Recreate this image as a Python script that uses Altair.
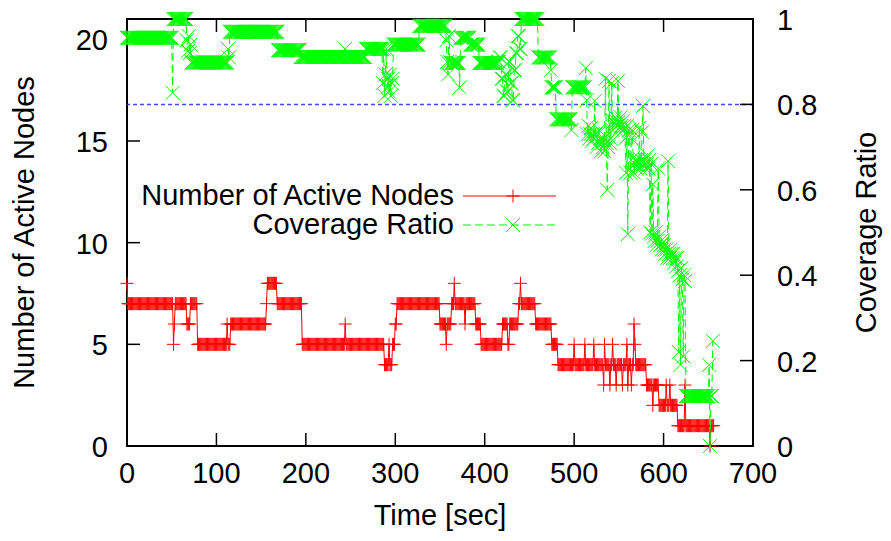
import altair as alt
import pandas as pd

# ---------------- data ----------------
# Number of active nodes: (time [s] at which the value starts, value); sampled every second
nodes_steps = [(0, 8), (1, 7), (52, 5), (53, 6), (54, 7), (67, 6), (71, 7), (79, 5), (112, 6), (113, 5),
               (116, 6), (156, 7), (157, 8), (168, 7), (196, 5), (244, 6), (245, 5), (288, 4), (293, 5),
               (294, 4), (297, 5), (300, 6), (302, 7), (350, 6), (357, 5), (358, 6), (363, 7), (366, 8),
               (367, 7), (378, 6), (379, 7), (390, 6), (396, 5), (420, 6), (426, 5), (428, 6), (438, 7),
               (440, 8), (441, 7), (457, 6), (475, 5), (482, 4), (500, 5), (501, 4), (512, 5), (513, 4),
               (522, 5), (523, 4), (533, 3), (534, 5), (535, 4), (540, 3), (541, 4), (543, 5), (544, 4),
               (547, 3), (548, 4), (554, 3), (555, 4), (559, 5), (560, 3), (561, 4), (564, 3), (565, 4),
               (567, 6), (568, 5), (569, 4), (581, 3), (588, 2), (589, 3), (595, 2), (603, 3), (604, 2),
               (607, 3), (608, 2), (616, 1), (624, 3), (625, 1), (652, 0), (653, 1)]
nodes_end = 656

# Coverage ratio: step part (time start, value)
coverage_steps = [(0, 0.956), (51, 0.827), (52, 1.0), (67, 0.95), (68, 0.925), (69, 0.96), (70, 0.92),
                  (71, 0.94), (72, 0.898), (113, 0.93), (114, 0.91), (115, 0.97), (169, 0.927), (194, 0.911),
                  (244, 0.93), (245, 0.911), (267, 0.93), (286, 0.85), (287, 0.93), (288, 0.82), (289, 0.87),
                  (290, 0.93), (291, 0.84), (292, 0.86), (293, 0.83), (294, 0.87), (295, 0.82), (296, 0.85),
                  (297, 0.86), (298, 0.94), (327, 0.984), (357, 0.95), (358, 0.90), (359, 0.87), (360, 0.96),
                  (361, 0.90), (362, 0.897), (372, 0.84), (373, 0.956), (384, 0.94), (394, 0.897), (415, 0.90),
                  (417, 0.91), (419, 0.86), (421, 0.82), (423, 0.87), (425, 0.83), (427, 0.90), (429, 0.85),
                  (431, 0.81), (433, 0.88), (435, 0.92), (437, 0.96), (439, 0.93), (441, 1.0), (460, 0.91),
                  (474, 0.88), (475, 0.84), (480, 0.765), (497, 0.74), (498, 0.84), (513, 0.885)]
# Coverage ratio: one value per second from t = 514 to 624
coverage_tail_start = 514
coverage_tail = [0.81, 0.73, 0.75, 0.72, 0.73, 0.745, 0.715, 0.73, 0.72, 0.808, 0.73, 0.70, 0.73, 0.71, 0.74,
                 0.72, 0.69, 0.71, 0.70, 0.72, 0.69, 0.86, 0.71, 0.60, 0.70, 0.855, 0.71, 0.72, 0.85, 0.74,
                 0.76, 0.75, 0.77, 0.76, 0.75, 0.855, 0.76, 0.745, 0.77, 0.75, 0.76, 0.74, 0.75, 0.72, 0.64,
                 0.75, 0.496, 0.74, 0.73, 0.64, 0.72, 0.74, 0.675, 0.64, 0.66, 0.67, 0.65, 0.67, 0.66, 0.745,
                 0.65, 0.67, 0.735, 0.796, 0.66, 0.67, 0.65, 0.66, 0.68, 0.65, 0.67, 0.50, 0.66, 0.497, 0.613,
                 0.49, 0.48, 0.50, 0.47, 0.48, 0.65, 0.49, 0.47, 0.48, 0.46, 0.475, 0.47, 0.46, 0.45, 0.46,
                 0.44, 0.667, 0.45, 0.44, 0.46, 0.45, 0.44, 0.45, 0.43, 0.44, 0.42, 0.44, 0.41, 0.22, 0.40,
                 0.19, 0.417, 0.39, 0.21, 0.40, 0.386]
coverage_final_steps = [(625, 0.117), (651, 0.19), (652, 0.0), (653, 0.117), (655, 0.246)]
coverage_end = 655

x_tick_values = [0, 100, 200, 300, 400, 500, 600, 700]
left_tick_values = [0, 5, 10, 15, 20]
right_tick_values = [0, 0.2, 0.4, 0.6, 0.8, 1.0]
right_tick_labels = ["0", "0.2", "0.4", "0.6", "0.8", "1"]
threshold = [0.8]

series_names = ["Number of Active Nodes", "Coverage Ratio"]
x_title = "Time [sec]"
left_title = "Number of Active Nodes"
right_title = "Coverage Ratio"


def expand(steps, end):
    rows = []
    for i, (t, v) in enumerate(steps):
        nxt = steps[i + 1][0] if i + 1 < len(steps) else end + 1
        for s in range(t, nxt):
            rows.append((s, v))
    return rows


nodes_df = pd.DataFrame(expand(nodes_steps, nodes_end), columns=["t", "n"])
cov_steps_all = (coverage_steps
                 + [(coverage_tail_start + i, v) for i, v in enumerate(coverage_tail)]
                 + coverage_final_steps)
cov_df = pd.DataFrame(expand(cov_steps_all, coverage_end), columns=["t", "c"])

# ---------------- style ----------------
W, H = 626, 427
FONT = "Liberation Sans"
FS = 29
RED = "#ff0000"
GREEN = "#00ff00"
BLUE = "#3333ff"
PLUS = "M-1,0L1,0M0,-1L0,1"
XSHAPE = "M-1,-1L1,1M-1,1L1,-1"
TICK = 13

xs = alt.Scale(domain=[0, 700], nice=False, zero=False)
yl = alt.Scale(domain=[0, 21], nice=False, zero=False)
yr = alt.Scale(domain=[0, 1], nice=False, zero=False)

one = pd.DataFrame({"a": [0]})


def txt(**kw):
    return alt.Chart(one).mark_text(font=FONT, fontSize=FS, color="black", **kw)


# ---------------- left (nodes) group ----------------
nodes_base = alt.Chart(nodes_df)
red_line = nodes_base.mark_line(color=RED, strokeWidth=1).encode(
    x=alt.X("t:Q", scale=xs, axis=None),
    y=alt.Y("n:Q", scale=yl, axis=None),
)
red_pts = nodes_base.mark_point(shape=PLUS, size=169, filled=False, color=RED, strokeWidth=1, opacity=1).encode(
    x=alt.X("t:Q", scale=xs, axis=None),
    y=alt.Y("n:Q", scale=yl, axis=None),
)
lt_df = pd.DataFrame({"v": left_tick_values})
left_ticks = alt.Chart(lt_df).mark_rule(color="black", strokeWidth=1.5).encode(
    y=alt.Y("v:Q", scale=yl, axis=None), x=alt.value(0), x2=alt.value(TICK))
left_labels = alt.Chart(lt_df).mark_text(font=FONT, fontSize=FS, color="black", align="right",
                                         baseline="middle", dy=2).encode(
    y=alt.Y("v:Q", scale=yl, axis=None), x=alt.value(-19), text=alt.Text("v:Q", format="d"))

xt_df = pd.DataFrame({"v": x_tick_values})
bottom_ticks = alt.Chart(xt_df).mark_rule(color="black", strokeWidth=1.5).encode(
    x=alt.X("v:Q", scale=xs, axis=None), y=alt.value(H), y2=alt.value(H - TICK))
top_ticks = alt.Chart(xt_df).mark_rule(color="black", strokeWidth=1.5).encode(
    x=alt.X("v:Q", scale=xs, axis=None), y=alt.value(0), y2=alt.value(TICK))
bottom_labels = alt.Chart(xt_df).mark_text(font=FONT, fontSize=FS, color="black", align="center",
                                           baseline="middle").encode(
    x=alt.X("v:Q", scale=xs, axis=None), y=alt.value(H + 28), text=alt.Text("v:Q", format="d"))

titles = alt.layer(
    txt(align="center", baseline="middle").encode(x=alt.value(W / 2), y=alt.value(H + 70),
                                                  text=alt.value(x_title)),
    txt(align="center", baseline="middle", angle=270).encode(x=alt.value(-102), y=alt.value(H / 2),
                                                             text=alt.value(left_title)),
    txt(align="center", baseline="middle", angle=270).encode(x=alt.value(W + 114), y=alt.value(H / 2),
                                                             text=alt.value(right_title)),
)

# legend (gnuplot-style: text right-aligned, sample to the right)
LX_TEXT, LX1, LX2, LXM = 327, 336, 429, 386
LY1, LY2 = 177, 206
leg_t1 = txt(align="right", baseline="middle").encode(x=alt.value(LX_TEXT), y=alt.value(LY1),
                                                      text=alt.value(series_names[0]))
leg_t2 = txt(align="right", baseline="middle").encode(x=alt.value(LX_TEXT), y=alt.value(LY2),
                                                      text=alt.value(series_names[1]))
leg_l1 = alt.Chart(one).mark_rule(color=RED, strokeWidth=1).encode(
    x=alt.value(LX1), x2=alt.value(LX2), y=alt.value(LY1))
leg_l2 = alt.Chart(one).mark_rule(color=GREEN, strokeWidth=1, strokeDash=[8, 4]).encode(
    x=alt.value(LX1), x2=alt.value(LX2), y=alt.value(LY2))
leg_p1 = alt.Chart(one).mark_point(shape=PLUS, size=169, filled=False, color=RED, strokeWidth=1, opacity=1).encode(
    x=alt.value(LXM), y=alt.value(LY1))
leg_p2 = alt.Chart(one).mark_point(shape=XSHAPE, size=196, filled=False, color=GREEN, strokeWidth=1, opacity=1).encode(
    x=alt.value(LXM), y=alt.value(LY2))

left = alt.layer(left_ticks, left_labels, bottom_ticks, top_ticks, bottom_labels, titles,
                 red_line, red_pts, leg_t1, leg_t2, leg_l1, leg_l2, leg_p1, leg_p2)

# ---------------- right (coverage) group ----------------
cov_base = alt.Chart(cov_df)
thr = alt.Chart(pd.DataFrame({"v": threshold})).mark_rule(
    color=BLUE, strokeWidth=1.5, strokeDash=[4, 3], opacity=0.9).encode(
    y=alt.Y("v:Q", scale=yr, axis=None))
green_line = cov_base.mark_line(color=GREEN, strokeWidth=1, strokeDash=[8, 4]).encode(
    x=alt.X("t:Q", scale=xs, axis=None),
    y=alt.Y("c:Q", scale=yr, axis=None),
)
green_pts = cov_base.mark_point(shape=XSHAPE, size=196, filled=False, color=GREEN, strokeWidth=1, opacity=1).encode(
    x=alt.X("t:Q", scale=xs, axis=None),
    y=alt.Y("c:Q", scale=yr, axis=None),
)
rt_df = pd.DataFrame({"v": right_tick_values, "lab": right_tick_labels})
right_ticks = alt.Chart(rt_df).mark_rule(color="black", strokeWidth=1.5).encode(
    y=alt.Y("v:Q", scale=yr, axis=None), x=alt.value(W), x2=alt.value(W - TICK))
right_labels = alt.Chart(rt_df).mark_text(font=FONT, fontSize=FS, color="black", align="left",
                                          baseline="middle", dy=2).encode(
    y=alt.Y("v:Q", scale=yr, axis=None), x=alt.value(W + 24), text="lab:N")

right = alt.layer(thr, right_ticks, right_labels, green_line, green_pts)

chart = (
    alt.layer(left, right)
    .resolve_scale(y="independent")
    .properties(width=W, height=H, autosize="none",
                padding={"left": 119, "top": 11, "right": 130, "bottom": 86})
    .configure_view(stroke="black", strokeWidth=2)
)

chart.save("out.html", embed_options={"renderer": "svg", "actions": False})
